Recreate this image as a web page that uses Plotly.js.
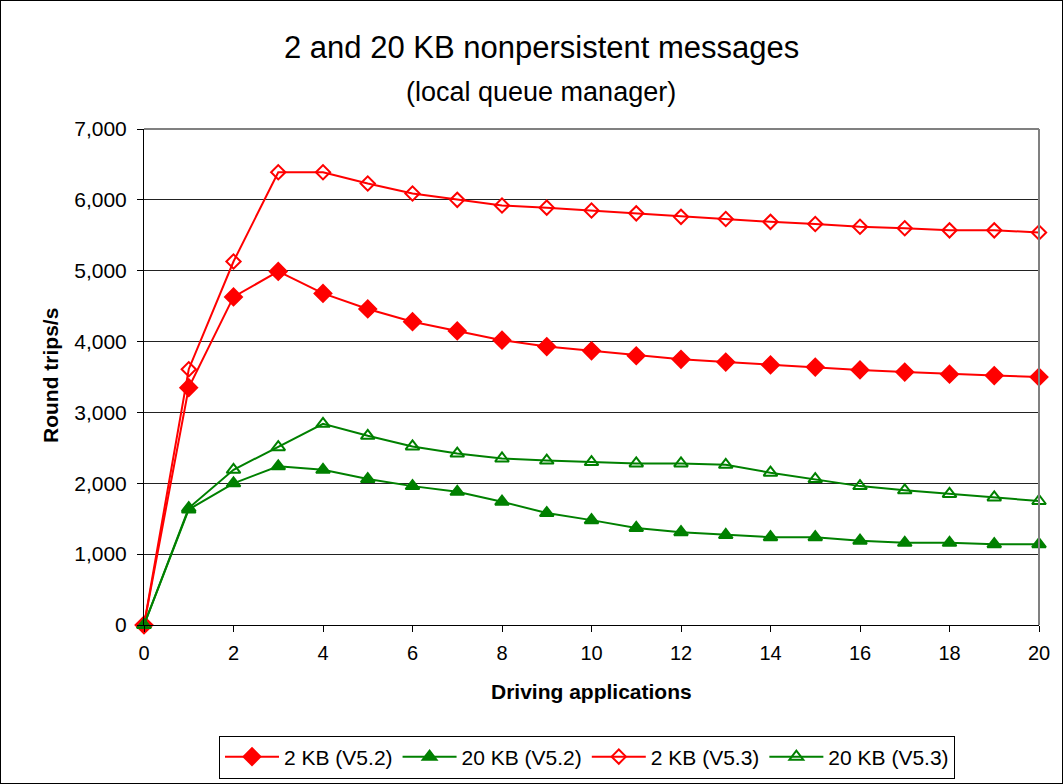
<!DOCTYPE html>
<html>
<head>
<meta charset="utf-8">
<script src="https://cdn.plot.ly/plotly-3.0.1.min.js"></script>
<style>
html,body{margin:0;padding:0;background:#fff;}
#wrap{position:relative;width:1063px;height:784px;}
#chart{position:absolute;left:0;top:0;width:1063px;height:784px;}
#frame{position:absolute;left:0;top:0;width:1063px;height:784px;box-sizing:border-box;border:1px solid #000;pointer-events:none;}
</style>
</head>
<body>
<div id="wrap"><div id="chart"></div><div id="frame"></div></div>
<script>
const apps = [0,1,2,3,4,5,6,7,8,9,10,11,12,13,14,15,16,17,18,19,20];
const kb2_v52 = [0,3350,4630,4990,4680,4460,4280,4150,4020,3930,3870,3800,3750,3710,3670,3640,3600,3570,3540,3520,3500];
const kb20_v52 = [0,1630,2000,2240,2190,2060,1960,1880,1740,1580,1480,1370,1310,1270,1240,1240,1190,1160,1160,1140,1140];
const kb2_v53 = [0,3610,5130,6390,6390,6230,6090,6000,5920,5890,5850,5810,5760,5730,5690,5660,5620,5600,5570,5570,5540];
const kb20_v53 = [0,1650,2190,2510,2840,2670,2520,2420,2350,2320,2300,2280,2280,2260,2150,2060,1960,1900,1850,1800,1750];
const seriesNames = ["2 KB (V5.2)","20 KB (V5.2)","2 KB (V5.3)","20 KB (V5.3)"];
const titleText = "2 and 20 KB nonpersistent messages";
const subtitleText = "(local queue manager)";
const xTitle = "Driving applications";
const yTitle = "Round trips/s";

const RED = "#ff0000", GREEN = "#008000";
function tr(name, y, color, symbol, size){
  return {x: apps, y: y, name: name, type: "scatter", mode: "lines+markers",
    line: {color: color, width: 2},
    marker: {symbol: symbol, size: size, color: color, line: {color: color, width: 2}},
    cliponaxis: false};
}
const data = [
  tr(seriesNames[0], kb2_v52, RED, "diamond", 13),
  tr(seriesNames[1], kb20_v52, GREEN, "triangle-up", 12),
  tr(seriesNames[2], kb2_v53, RED, "diamond-open", 11),
  tr(seriesNames[3], kb20_v53, GREEN, "triangle-up-open", 12)
];
const font = {family: "Liberation Sans, Arial, sans-serif", color: "#000"};
const W = 1063, H = 784, L = 144, R = 24, T = 129, B = 159;
const PW = W - L - R, PH = H - T - B;
const layout = {
  width: W, height: H,
  margin: {l: L, r: R, t: T, b: B, autoexpand: false},
  paper_bgcolor: "#fff", plot_bgcolor: "#fff",
  font: Object.assign({size: 21}, font),
  showlegend: true,
  xaxis: {range: [0, 20], tickvals: [0,2,4,6,8,10,12,14,16,18,20], ticks: "outside", ticklen: 6, tickcolor: "#000",
    showgrid: false, zeroline: false, showline: true, linecolor: "#000", linewidth: 1, automargin: false,
    tickfont: Object.assign({size: 20}, font), ticklabelstandoff: 4},
  yaxis: {range: [0, 7000], dtick: 1000, tickformat: ",d", ticks: "outside", ticklen: 6, tickcolor: "#000",
    showgrid: true, gridcolor: "#222", gridwidth: 1, zeroline: false, showline: true, linecolor: "#000", linewidth: 1, automargin: false,
    tickfont: Object.assign({size: 21}, font), ticklabelstandoff: 6},
  shapes: [
    {type: "line", xref: "paper", yref: "paper", x0: 0, x1: 1, y0: 1, y1: 1, line: {color: "#808080", width: 2}},
    {type: "line", xref: "paper", yref: "paper", x0: 1, x1: 1, y0: 0, y1: 1, line: {color: "#808080", width: 2}}
  ],
  annotations: [
    {text: titleText, xref: "paper", yref: "paper", x: (541-L)/PW, y: (H-B-47)/PH, xanchor: "center", yanchor: "middle", showarrow: false, font: Object.assign({size: 31}, font)},
    {text: subtitleText, xref: "paper", yref: "paper", x: (541-L)/PW, y: (H-B-92)/PH, xanchor: "center", yanchor: "middle", showarrow: false, font: Object.assign({size: 27}, font)},
    {text: "<b>" + xTitle + "</b>", xref: "paper", yref: "paper", x: (591-L)/PW, y: (H-B-691)/PH, xanchor: "center", yanchor: "middle", showarrow: false, font: Object.assign({size: 21}, font)},
    {text: "<b>" + yTitle + "</b>", xref: "paper", yref: "paper", x: (50-L)/PW, y: (H-B-376)/PH, xanchor: "center", yanchor: "middle", textangle: -90, showarrow: false, font: Object.assign({size: 21}, font)}
  ],
  legend: {orientation: "h", xref: "container", yref: "container", x: 587/W, xanchor: "center", y: 1 - 757/H, yanchor: "middle", bgcolor: "#fff", bordercolor: "#000", borderwidth: 1,
    font: Object.assign({size: 21}, font), itemwidth: 54, tracegroupgap: 0}
};
Plotly.newPlot("chart", data, layout, {staticPlot: true, displayModeBar: false});
</script>
</body>
</html>
